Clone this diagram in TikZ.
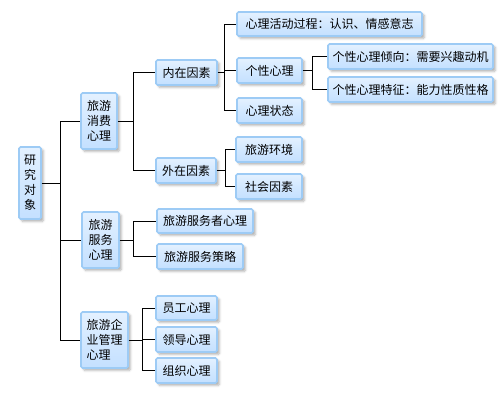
\documentclass[tikz,border=0pt]{standalone}
\usepackage{fontspec}
\setmainfont{Noto Sans CJK SC}
\usetikzlibrary{shadows.blur}
\definecolor{boxline}{HTML}{9DCBF5}
\definecolor{boxtop}{HTML}{E4F1FF}
\definecolor{boxmid}{HTML}{D2E8FF}
\definecolor{boxbot}{HTML}{C4E0FF}
\tikzset{
  box/.style={draw=boxline, line width=1.6pt, rounded corners=1.5pt,
    top color=boxtop, bottom color=boxbot, middle color=boxmid,
    blur shadow={shadow xshift=2.5pt, shadow yshift=-2.5pt, shadow blur steps=4, shadow opacity=30},
    inner sep=0pt, font=\fontsize{12}{15}\selectfont},
  link/.style={line width=0.9pt, black}
}

\begin{document}
\begin{tikzpicture}[x=1pt, y=-1pt]
		%%%%% START %%%%%
		
		\useasboundingbox (0,0) rectangle (500,400);
		
		% root
		\node[box, minimum width=22pt, minimum height=72pt, align=center] (yj) at (30,183) {研\\究\\对\\象};
		
		% second level
		\node[box, minimum width=36pt, minimum height=56pt, align=left] (xf) at (99,121) {旅游\\消费\\心理};
		\node[box, minimum width=37pt, minimum height=56pt, align=left] (fw) at (100.5,240) {旅游\\服务\\心理};
		\node[box, minimum width=47pt, minimum height=56pt, align=left] (qy) at (104.5,340) {旅游企\\业管理\\心理};
		
		% third level
		\node[box, minimum width=61pt, minimum height=25pt] (nz) at (186.5,72.5) {内在因素};
		\node[box, minimum width=60pt, minimum height=25pt] (wz) at (186,170.5) {外在因素};
		\node[box, minimum width=96pt, minimum height=24pt] (fz) at (205,221) {旅游服务者心理};
		\node[box, minimum width=86pt, minimum height=25pt] (cl) at (200,256.5) {旅游服务策略};
		\node[box, minimum width=61pt, minimum height=24pt] (yg) at (186.5,308) {员工心理};
		\node[box, minimum width=61pt, minimum height=25pt] (ld) at (186.5,339.5) {领导心理};
		\node[box, minimum width=61pt, minimum height=25pt] (zz) at (186.5,370.5) {组织心理};
		
		% fourth level
		\node[box, minimum width=185pt, minimum height=24pt] (hd) at (329.5,24) {心理活动过程：认识、情感意志};
		\node[box, minimum width=65pt, minimum height=25pt] (gx) at (269.5,70.5) {个性心理};
		\node[box, minimum width=65pt, minimum height=25pt] (zt) at (269.5,110.5) {心理状态};
		\node[box, minimum width=66pt, minimum height=25pt] (hj) at (269,149.5) {旅游环境};
		\node[box, minimum width=66pt, minimum height=25pt] (sh) at (269,186.5) {社会因素};
		
		% fifth level
		\node[box, minimum width=165pt, minimum height=25pt] (qx) at (410.5,56.5) {个性心理倾向：需要兴趣动机};
		\node[box, minimum width=165pt, minimum height=25pt] (tz) at (410.5,89.5) {个性心理特征：能力性质性格};
		
		% connectors
		\draw[link] (yj.east) -- ++(19,0) |- (xf.west);
		\draw[link] (yj.east) -- ++(19,0) |- (fw.west);
		\draw[link] (yj.east) -- ++(19,0) |- (qy.west);
		
		\draw[link] (xf.east) -- ++(16,0) |- (nz.west);
		\draw[link] (xf.east) -- ++(16,0) |- (wz.west);
		\draw[link] (fw.east) -- ++(14,0) |- (fz.west);
		\draw[link] (fw.east) -- ++(14,0) |- (cl.west);
		\draw[link] (qy.east) -- ++(14,0) |- (yg.west);
		\draw[link] (qy.east) -- ++(14,0) |- (ld.west);
		\draw[link] (qy.east) -- ++(14,0) |- (zz.west);
		
		\draw[link] (nz.east) -- ++(7,0) |- (hd.west);
		\draw[link] (nz.east) -- ++(7,0) |- (gx.west);
		\draw[link] (nz.east) -- ++(7,0) |- (zt.west);
		\draw[link] (wz.east) -- ++(9,0) |- (hj.west);
		\draw[link] (wz.east) -- ++(9,0) |- (sh.west);
		
		\draw[link] (gx.east) -- ++(10,0) |- (qx.west);
		\draw[link] (gx.east) -- ++(10,0) |- (tz.west);
		
		%%%%% END %%%%%
\end{tikzpicture}
\end{document}
